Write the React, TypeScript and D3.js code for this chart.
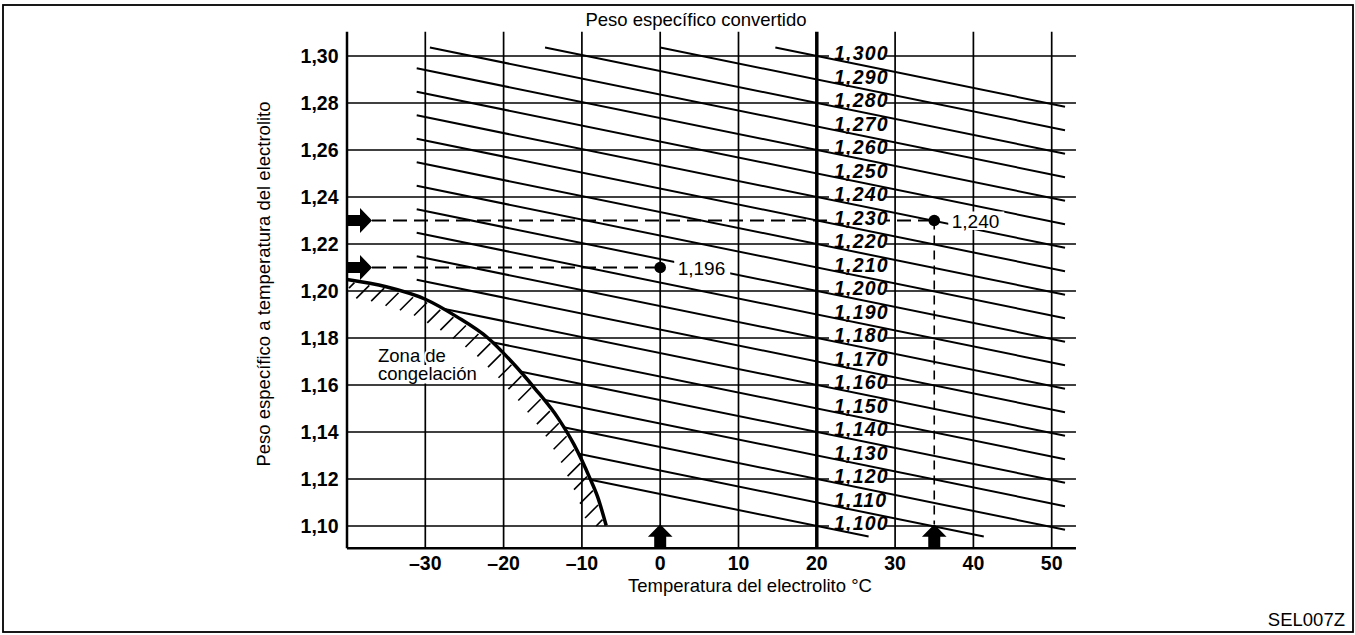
import React from 'react';
import * as d3 from 'd3';

const W = 1355;
const H = 635;

// Axis ticks
const xTicks = [-30, -20, -10, 0, 10, 20, 30, 40, 50];
const yTicks = [1.1, 1.12, 1.14, 1.16, 1.18, 1.2, 1.22, 1.24, 1.26, 1.28, 1.3];

// Converted specific gravity lines (value at 20 °C)
const convertedSG = [
  1.1, 1.11, 1.12, 1.13, 1.14, 1.15, 1.16, 1.17, 1.18, 1.19, 1.2,
  1.21, 1.22, 1.23, 1.24, 1.25, 1.26, 1.27, 1.28, 1.29, 1.3,
];
const SLOPE = 0.00068; // SG change per °C
const REF_TEMP = 20;

// Freezing zone boundary
const freezeT = [-40, -35, -30, -26, -22, -19, -16, -13, -11, -9, -8, -6.9];
const freezeSG = [1.2049, 1.2018, 1.1965, 1.1891, 1.18, 1.17, 1.1585, 1.1457, 1.1346, 1.1205, 1.1125, 1.1002];

// Example readings
const readingTemps = [0, 35];
const readingMeasured = [1.21, 1.23];
const readingConverted = ['1,196', '1,240'];

const FONT = '"Liberation Sans", Arial, Helvetica, sans-serif';

export default function App() {
  const x = d3.scaleLinear().domain([-40, 50]).range([347, 1051.7]);
  const y = d3.scaleLinear().domain([1.1, 1.3]).range([526, 56]);

  const plotLeft = x(-40);
  const plotRight = x(53.1);
  const plotTop = y(1.3103);
  const plotBottom = y(1.0905);

  const LINE_T_LEFT = -31.1;
  const LINE_T_RIGHT = 51.7;
  const LINE_V_TOP = 1.3036;
  const LINE_V_BOTTOM = 1.0955;

  const freezeAt = d3.scaleLinear().domain(freezeT).range(freezeSG).clamp(true);
  const sg = (c: number, t: number) => c - SLOPE * (t - REF_TEMP);

  const lines = convertedSG.map((c) => {
    let t0 = LINE_T_LEFT;
    const tTop = REF_TEMP - (LINE_V_TOP - c) / SLOPE;
    t0 = Math.max(t0, tTop);
    if (sg(c, t0) < freezeAt(t0)) {
      let a = t0;
      let b = freezeT[freezeT.length - 1];
      for (let i = 0; i < 60; i++) {
        const m = (a + b) / 2;
        if (sg(c, m) - freezeAt(m) < 0) a = m;
        else b = m;
      }
      t0 = b;
    }
    const tBot = REF_TEMP + (c - LINE_V_BOTTOM) / SLOPE;
    const t1 = Math.min(LINE_T_RIGHT, tBot);
    return { c, x1: x(t0), y1: y(sg(c, t0)), x2: x(t1), y2: y(sg(c, t1)) };
  });

  const freezePts: [number, number][] = freezeT.map((t, i) => [x(t), y(freezeSG[i])]);
  const freezePath = d3.line().curve(d3.curveMonotoneX)(freezePts) || '';

  // hatches along the curve
  const hatches: { x1: number; y1: number; x2: number; y2: number }[] = [];
  {
    const t0 = freezeT[0];
    const t1 = freezeT[freezeT.length - 1];
    let prev: [number, number] | null = null;
    let acc = 6;
    const spacing = 15;
    for (let t = t0; t <= t1; t += 0.02) {
      const p: [number, number] = [x(t), y(freezeAt(t))];
      if (prev) {
        acc += Math.hypot(p[0] - prev[0], p[1] - prev[1]);
        if (acc >= spacing) {
          acc = 0;
          const sx = p[0] - 1.5;
          const sy = p[1] + 1.5;
          let ex = p[0] - 14.5;
          let ey = p[1] + 14.5;
          const bottom = y(1.1);
          if (sy < bottom - 1) {
            if (ey > bottom) {
              const d = ey - bottom;
              ex += d;
              ey -= d;
            }
            if (ex < plotLeft + 2) {
              const d = plotLeft + 2 - ex;
              ex += d;
              ey -= d;
            }
            if (ex < sx) hatches.push({ x1: sx, y1: sy, x2: ex, y2: ey });
          }
        }
      }
      prev = p;
    }
  }

  const fmt2 = (v: number) => v.toFixed(2).replace('.', ',');
  const fmt3 = (v: number) => v.toFixed(3).replace('.', ',');
  const fmtT = (t: number) => (t < 0 ? '\u2013' + Math.abs(t) : String(t));

  const labelX = 834;
  const labelMid = 858;
  const colLabels = convertedSG.map((c) => {
    const tm = x.invert(labelMid);
    const base = y(sg(c, tm)) - 4;
    return { c, base };
  });

  const leftArrow = (cy: number) => {
    const x0 = plotLeft;
    return `M${x0},${cy - 5.5} L${x0 + 13},${cy - 5.5} L${x0 + 13},${cy - 12.5} L${x0 + 25},${cy} L${x0 + 13},${cy + 12.5} L${x0 + 13},${cy + 5.5} L${x0},${cy + 5.5} Z`;
  };
  const upArrow = (cx: number) => {
    const y0 = plotBottom;
    return `M${cx - 6},${y0} L${cx - 6},${y0 - 11.5} L${cx - 12.3},${y0 - 11.5} L${cx},${y0 - 24} L${cx + 12.3},${y0 - 11.5} L${cx + 6},${y0 - 11.5} L${cx + 6},${y0} Z`;
  };

  return (
    <svg
      width={W}
      height={H}
      style={{ position: 'absolute', left: 0, top: 0, background: '#fff' }}
      fontFamily={FONT}
    >
      <rect x={0} y={0} width={W} height={H} fill="#fff" />
      <rect x={3} y={5} width={1350} height={627} fill="none" stroke="#000" strokeWidth={1.8} />

      {/* horizontal gridlines */}
      {yTicks.map((v) => (
        <line key={'h' + v} x1={plotLeft} x2={plotRight} y1={y(v)} y2={y(v)} stroke="#000" strokeWidth={1.4} />
      ))}
      {/* vertical gridlines */}
      {xTicks.map((t) => (
        <line
          key={'v' + t}
          x1={x(t)}
          x2={x(t)}
          y1={plotTop}
          y2={plotBottom}
          stroke="#000"
          strokeWidth={t === 20 ? 3.5 : 1.7}
        />
      ))}

      {/* dashed reading lines */}
      {readingTemps.map((t, i) => (
        <line
          key={'dh' + i}
          x1={plotLeft + 25}
          x2={x(t)}
          y1={y(readingMeasured[i])}
          y2={y(readingMeasured[i])}
          stroke="#000"
          strokeWidth={1.8}
          strokeDasharray="14,7"
        />
      ))}
      <line
        x1={x(readingTemps[1])}
        x2={x(readingTemps[1])}
        y1={y(readingMeasured[1])}
        y2={plotBottom - 24}
        stroke="#000"
        strokeWidth={1.6}
        strokeDasharray="9,6"
      />

      {/* masks for column labels */}
      {colLabels.map((l) => (
        <rect key={'m' + l.c} x={829} y={l.base - 14.5} width={57} height={15.5} fill="#fff" />
      ))}

      {/* converted SG lines */}
      {lines.map((l) => (
        <line key={'l' + l.c} x1={l.x1} y1={l.y1} x2={l.x2} y2={l.y2} stroke="#000" strokeWidth={2} />
      ))}

      {/* freezing zone label */}
      <rect x={376} y={365} width={104} height={18.5} fill="#fff" />
      <text x={378} y={361.5} fontSize={18.5} stroke="#fff" strokeWidth={4} paintOrder="stroke" fill="#000">
        Zona de
      </text>
      <text x={378} y={380} fontSize={18.5} fill="#000">
        congelación
      </text>

      {/* freeze curve + hatches */}
      {hatches.map((h, i) => (
        <line key={'hz' + i} x1={h.x1} y1={h.y1} x2={h.x2} y2={h.y2} stroke="#000" strokeWidth={1.6} />
      ))}
      <path d={freezePath} fill="none" stroke="#000" strokeWidth={3.5} />

      {/* axes */}
      <line x1={plotLeft} x2={plotLeft} y1={plotTop} y2={plotBottom} stroke="#000" strokeWidth={2.5} />
      <line x1={plotLeft} x2={plotRight} y1={plotBottom} y2={plotBottom} stroke="#000" strokeWidth={2.5} />

      {/* reading labels with masks */}
      {readingTemps.map((t, i) => {
        const cx = x(t);
        const cy = y(readingMeasured[i]);
        return (
          <g key={'r' + i}>
            <rect x={cx + 14} y={cy - 9} width={56} height={18.5} fill="#fff" />
            <text x={cx + 17.5} y={cy + 7} fontSize={19} fill="#000">
              {readingConverted[i]}
            </text>
            <circle cx={cx} cy={cy} r={5.8} fill="#000" />
          </g>
        );
      })}

      {/* arrows */}
      {readingMeasured.map((v, i) => (
        <path key={'la' + i} d={leftArrow(y(v))} fill="#000" />
      ))}
      {readingTemps.map((t, i) => (
        <path key={'ua' + i} d={upArrow(x(t))} fill="#000" />
      ))}

      {/* tick labels */}
      {yTicks.map((v) => (
        <text key={'yt' + v} x={338.5} y={y(v) + 7} fontSize={19.5} fontWeight="bold" textAnchor="end" fill="#000">
          {fmt2(v)}
        </text>
      ))}
      {xTicks.map((t) => (
        <text key={'xt' + t} x={x(t)} y={569.5} fontSize={19.5} fontWeight="bold" textAnchor="middle" fill="#000">
          {fmtT(t)}
        </text>
      ))}

      {/* column labels */}
      {colLabels.map((l) => (
        <text
          key={'cl' + l.c}
          x={labelX}
          y={l.base}
          fontSize={19.5}
          fontWeight="bold"
          fontStyle="italic"
          letterSpacing={1.2}
          fill="#000"
        >
          {fmt3(l.c)}
        </text>
      ))}

      {/* titles */}
      <text x={696} y={26} fontSize={18.5} textAnchor="middle" fill="#000">
        Peso específico convertido
      </text>
      <text x={750} y={592} fontSize={18.5} textAnchor="middle" fill="#000">
        Temperatura del electrolito °C
      </text>
      <text transform="translate(270,284) rotate(-90)" fontSize={18.5} textAnchor="middle" fill="#000">
        Peso específico a temperatura del electrolito
      </text>
      <text x={1345} y={626} fontSize={18.5} textAnchor="end" fill="#000">
        SEL007Z
      </text>
    </svg>
  );
}
